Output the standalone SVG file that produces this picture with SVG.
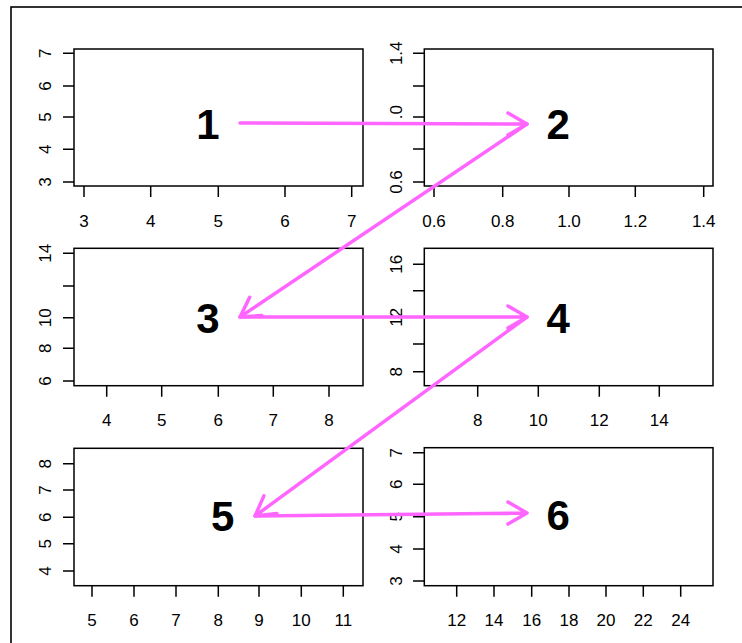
<svg xmlns="http://www.w3.org/2000/svg" width="742" height="643" viewBox="0 0 742 643">
<style>
.frame{fill:none;stroke:#000;stroke-width:1.6}
.box{fill:none;stroke:#000;stroke-width:1.5}
.tk{stroke:#000;stroke-width:1.5;fill:none}
.al{font-family:"Liberation Sans",Arial,sans-serif;font-size:17px;fill:#000}
.xl{text-anchor:middle}
.yl{text-anchor:middle}
.big{font-family:"Liberation Sans",Arial,sans-serif;font-size:42px;font-weight:bold;fill:#000;text-anchor:middle}
.ar{stroke:#ff66ff;stroke-width:3.5;fill:none;stroke-linecap:round;stroke-linejoin:round}
</style>
<rect x="0" y="0" width="742" height="643" fill="#fff"/>
<rect class="frame" x="11" y="7" width="740" height="650"/>

<g id="panel1">
<rect class="box" x="74" y="49" width="289" height="137"/>
<path class="tk" d="M74,53.3H63M74,86H63M74,117H63M74,149.3H63M74,182H63M84,186V197M150.7,186V197M218.3,186V197M285,186V197M351.7,186V197"/>
<g class="al yl">
<text transform="translate(51,53.3) rotate(-90)">7</text>
<text transform="translate(51,86) rotate(-90)">6</text>
<text transform="translate(51,117) rotate(-90)">5</text>
<text transform="translate(51,149.3) rotate(-90)">4</text>
<text transform="translate(51,182) rotate(-90)">3</text>
</g>
<g class="al xl">
<text x="84" y="226.5">3</text><text x="150.7" y="226.5">4</text><text x="218.3" y="226.5">5</text><text x="285" y="226.5">6</text><text x="351.7" y="226.5">7</text>
</g>
<text class="big" x="208" y="139">1</text>
</g>

<g id="panel2">
<rect class="box" x="424.3" y="49" width="288.7" height="137"/>
<path class="tk" d="M424.3,53.3H413M424.3,86H413M424.3,117H413M424.3,149H413M424.3,182H413M434,186V197M502.7,186V197M569,186V197M635.3,186V197M703.7,186V197"/>
<g class="al yl">
<text transform="translate(402,53.3) rotate(-90)">1.4</text>
<text transform="translate(402,105) rotate(-90)" style="text-anchor:end">.0</text>
<text transform="translate(402,182) rotate(-90)">0.6</text>
</g>
<g class="al xl">
<text x="434" y="226.5">0.6</text><text x="502.7" y="226.5">0.8</text><text x="569" y="226.5">1.0</text><text x="635.3" y="226.5">1.2</text><text x="703.7" y="226.5">1.4</text>
</g>
<text class="big" x="558.3" y="139">2</text>
</g>

<g id="panel3">
<rect class="box" x="74" y="248.3" width="289" height="137.4"/>
<path class="tk" d="M74,253.3H63M74,286H63M74,317.7H63M74,348.3H63M74,381H63M106.7,385.7V396.7M161.7,385.7V396.7M218.3,385.7V396.7M273.3,385.7V396.7M329,385.7V396.7"/>
<g class="al yl">
<text transform="translate(51,253.3) rotate(-90)">14</text>
<text transform="translate(51,317.7) rotate(-90)">10</text>
<text transform="translate(51,348.3) rotate(-90)">8</text>
<text transform="translate(51,381) rotate(-90)">6</text>
</g>
<g class="al xl">
<text x="106.7" y="426">4</text><text x="161.7" y="426">5</text><text x="218.3" y="426">6</text><text x="273.3" y="426">7</text><text x="329" y="426">8</text>
</g>
<text class="big" x="208" y="333">3</text>
</g>

<g id="panel4">
<rect class="box" x="424.3" y="248.3" width="288.7" height="137.4"/>
<path class="tk" d="M424.3,264.3H413M424.3,290.7H413M424.3,317.3H413M424.3,344H413M424.3,371.7H413M477.7,385.7V396.7M538.3,385.7V396.7M599.3,385.7V396.7M659.3,385.7V396.7"/>
<g class="al yl">
<text transform="translate(402,264.3) rotate(-90)">16</text>
<text transform="translate(402,317.3) rotate(-90)">12</text>
<text transform="translate(402,371.7) rotate(-90)">8</text>
</g>
<g class="al xl">
<text x="477.7" y="426">8</text><text x="538.3" y="426">10</text><text x="599.3" y="426">12</text><text x="659.3" y="426">14</text>
</g>
<text class="big" x="558.3" y="333">4</text>
</g>

<g id="panel5">
<rect class="box" x="74" y="448.3" width="289" height="137.4"/>
<path class="tk" d="M74,463.7H63M74,490H63M74,517.3H63M74,543.7H63M74,571H63M92,585.7V596.7M134,585.7V596.7M176,585.7V596.7M218.3,585.7V596.7M259,585.7V596.7M301.3,585.7V596.7M343.3,585.7V596.7"/>
<g class="al yl">
<text transform="translate(51,463.7) rotate(-90)">8</text>
<text transform="translate(51,490) rotate(-90)">7</text>
<text transform="translate(51,517.3) rotate(-90)">6</text>
<text transform="translate(51,543.7) rotate(-90)">5</text>
<text transform="translate(51,571) rotate(-90)">4</text>
</g>
<g class="al xl">
<text x="92" y="626">5</text><text x="134" y="626">6</text><text x="176" y="626">7</text><text x="218.3" y="626">8</text><text x="259" y="626">9</text><text x="301.3" y="626">10</text><text x="343.3" y="626">11</text>
</g>
<text class="big" x="222.7" y="531">5</text>
</g>

<g id="panel6">
<rect class="box" x="424.3" y="447.7" width="288.7" height="138"/>
<path class="tk" d="M424.3,452.7H413M424.3,484.3H413M424.3,516.7H413M424.3,549H413M424.3,581H413M456.7,585.7V596.7M494,585.7V596.7M531.7,585.7V596.7M569,585.7V596.7M606,585.7V596.7M643.3,585.7V596.7M680.7,585.7V596.7"/>
<g class="al yl">
<text transform="translate(402,452.7) rotate(-90)">7</text>
<text transform="translate(402,484.3) rotate(-90)">6</text>
<text transform="translate(402,516.7) rotate(-90)">5</text>
<text transform="translate(402,549) rotate(-90)">4</text>
<text transform="translate(402,581) rotate(-90)">3</text>
</g>
<g class="al xl">
<text x="456.7" y="626">12</text><text x="494" y="626">14</text><text x="531.7" y="626">16</text><text x="569" y="626">18</text><text x="606" y="626">20</text><text x="643.3" y="626">22</text><text x="680.7" y="626">24</text>
</g>
<text class="big" x="558.3" y="530">6</text>
</g>

<g id="connectors">
<path class="ar" d="M240,123L527,124M508,113L527,124L508,135"/>
<path class="ar" d="M527,124L240,317M249.7,297.2L240,317L261.9,315.5"/>
<path class="ar" d="M240,317L527,317M508,306L527,317L508,328"/>
<path class="ar" d="M527,317L255,516M263.9,495.9L255,516L276.9,513.6"/>
<path class="ar" d="M255,516L527,513M508,502L527,513L508,524"/>
</g>
</svg>
